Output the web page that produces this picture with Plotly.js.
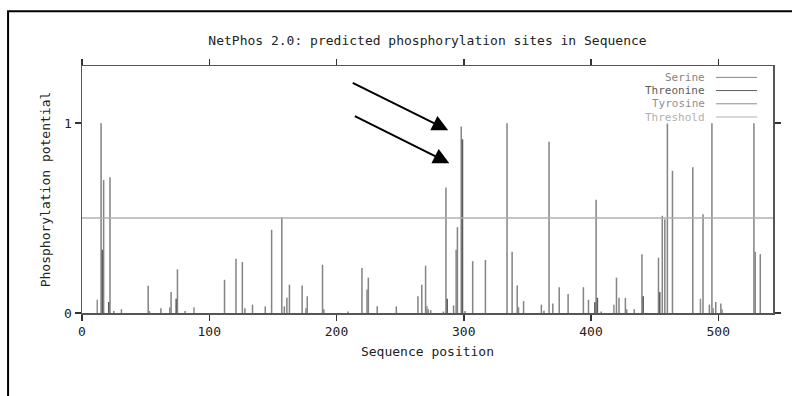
<!DOCTYPE html>
<html>
<head>
<meta charset="utf-8">
<script src="https://cdn.plot.ly/plotly-3.0.1.min.js"></script>
<style>
html,body{margin:0;padding:0;background:#fff;}
#chart{width:792px;height:396px;}
</style>
</head>
<body>
<div id="chart"></div>
<script>
// Data
const seqLength = 543;
const threshold = 0.5;

const serinePos = [15,17,22,25,31,52,53,62,69,70,75,81,112,121,126,128,134,144,149,157,159,161,163,173,176,177,189,190,209,220,224,225,232,247,264,267,270,272,274,284,286,292,294,295,298,301,307,317,334,338,342,343,347,361,363,367,370,375,382,394,398,404,408,420,422,427,428,434,440,453,456,458,460,464,480,488,493,495,498,502,528,529,533];
const serineVal = [1.0,0.70,0.715,0.01,0.02,0.143,0.01,0.025,0.03,0.11,0.23,0.01,0.175,0.286,0.268,0.025,0.044,0.035,0.438,0.505,0.035,0.08,0.149,0.145,0.025,0.088,0.254,0.02,0.008,0.237,0.124,0.186,0.035,0.035,0.088,0.149,0.249,0.02,0.015,0.008,0.661,0.04,0.333,0.452,0.982,0.01,0.273,0.279,1.0,0.323,0.145,0.03,0.063,0.044,0.012,0.902,0.05,0.136,0.1,0.136,0.07,0.596,0.008,0.186,0.08,0.08,0.02,0.02,0.31,0.291,0.512,0.494,0.998,0.749,0.768,0.52,0.044,1.0,0.058,0.05,1.0,0.323,0.31];

const threoninePos = [16,21,74,287,299,403,405,441,454];
const threonineVal = [0.333,0.058,0.075,0.075,0.915,0.056,0.08,0.088,0.11];

const tyrosinePos = [12,88,271,418,486,496,503];
const tyrosineVal = [0.07,0.03,0.035,0.044,0.075,0.025,0.02];

const xTicks = [0,100,200,300,400,500];
const yTicks = [0,1];

const legendNames = ['Serine','Threonine','Tyrosine','Threshold'];
const legendColors = ['#858585','#5c5c5c','#8f8f8f','#b0b0b0'];

const FONT = 'DejaVu Sans Mono, monospace';

function barTrace(x, y, color, name) {
  return {type:'bar', x:x, y:y, name:name, width:1.2,
    marker:{color:color, line:{width:0}}, showlegend:false, hoverinfo:'x+y'};
}

const traces = [
  {type:'scatter', mode:'lines', x:[0, seqLength], y:[threshold, threshold],
   line:{color:legendColors[3], width:1.5}, showlegend:false, hoverinfo:'skip'},
  barTrace(serinePos, serineVal, legendColors[0], 'Serine'),
  barTrace(threoninePos, threonineVal, legendColors[1], 'Threonine'),
  barTrace(tyrosinePos, tyrosineVal, legendColors[2], 'Tyrosine')
];

const annotations = [];
const shapes = [];
// legend built as right-aligned text with line samples on the right
legendNames.forEach(function(n, i){
  const yp = 0.954 - i*0.0535;
  annotations.push({xref:'paper', yref:'paper', x:0.904, y:yp, xanchor:'right', yanchor:'middle',
    text:n, showarrow:false, font:{family:FONT, size:11, color:legendColors[i]}});
  shapes.push({type:'line', xref:'paper', yref:'paper', x0:0.9175, x1:0.977, y0:yp, y1:yp,
    line:{color:legendColors[i], width:1}});
});
// arrows
annotations.push({xref:'paper', yref:'paper', x:0.530, y:0.740, ax:-97, ay:-48, axref:'pixel', ayref:'pixel',
  text:'', showarrow:true, arrowhead:2, arrowsize:1.6, arrowwidth:2, arrowcolor:'#000'});
annotations.push({xref:'paper', yref:'paper', x:0.5316, y:0.606, ax:-96, ay:-48, axref:'pixel', ayref:'pixel',
  text:'', showarrow:true, arrowhead:2, arrowsize:1.6, arrowwidth:2, arrowcolor:'#000'});
// outer frame
shapes.push({type:'rect', xref:'paper', yref:'paper', x0:-0.107, x1:1.2, y0:-0.6, y1:1.222,
  line:{color:'#000', width:2}, fillcolor:'rgba(0,0,0,0)', layer:'below'});

const layout = {
  width:792, height:396,
  margin:{l:82, r:19, t:66, b:83},
  paper_bgcolor:'#fff', plot_bgcolor:'#fff',
  font:{family:FONT, size:13, color:'#222'},
  barmode:'overlay',
  showlegend:false,
  title:{text:'NetPhos 2.0: predicted phosphorylation sites in Sequence', x:0.5, xref:'paper',
    y:1-40/396, yref:'container', yanchor:'middle', font:{family:FONT, size:13, color:'#222'}},
  xaxis:{range:[0, seqLength], tickvals:xTicks, ticktext:xTicks.map(String), ticks:'outside', ticklen:6, tickwidth:1.5,
    tickcolor:'#333', showline:true, linecolor:'#555', linewidth:1.5, mirror:'ticks', showgrid:false, zeroline:false,
    title:{text:'Sequence position', standoff:9, font:{family:FONT, size:13, color:'#222'}},
    tickfont:{family:FONT, size:13, color:'#222'}},
  yaxis:{range:[0, 1.301], tickvals:yTicks, ticktext:yTicks.map(String), ticks:'outside', ticklen:6, tickwidth:1.5,
    tickcolor:'#333', showline:true, linecolor:'#555', linewidth:1.5, mirror:'ticks', showgrid:false, zeroline:false,
    title:{text:'Phosphorylation potential', standoff:10, font:{family:FONT, size:13, color:'#222'}},
    tickfont:{family:FONT, size:13, color:'#222'}},
  annotations:annotations,
  shapes:shapes
};

Plotly.newPlot('chart', traces, layout, {staticPlot:true, displayModeBar:false});
</script>
</body>
</html>
